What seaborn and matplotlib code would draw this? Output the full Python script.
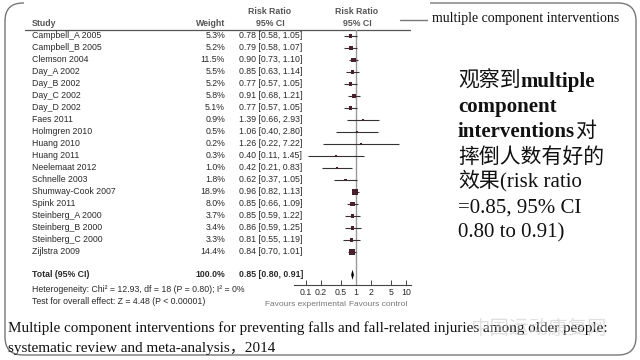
import numpy as np
import pandas as pd
import matplotlib
matplotlib.use("Agg")
import matplotlib.pyplot as plt
import seaborn as sns
from matplotlib.patches import FancyBboxPatch, Rectangle

# ---------------- data ----------------
studies = ["Campbell_A 2005", "Campbell_B 2005", "Clemson 2004", "Day_A 2002",
           "Day_B 2002", "Day_C 2002", "Day_D 2002", "Faes 2011", "Holmgren 2010",
           "Huang 2010", "Huang 2011", "Neelemaat 2012", "Schnelle 2003",
           "Shumway-Cook 2007", "Spink 2011", "Steinberg_A 2000", "Steinberg_B 2000",
           "Steinberg_C 2000", "Zijlstra 2009"]
weights = [5.3, 5.2, 11.5, 5.5, 5.2, 5.8, 5.1, 0.9, 0.5, 0.2, 0.3, 1.0, 1.8,
           18.9, 8.0, 3.7, 3.4, 3.3, 14.4]
rr = [0.78, 0.79, 0.90, 0.85, 0.77, 0.91, 0.77, 1.39, 1.06, 1.26, 0.40, 0.42,
      0.62, 0.96, 0.85, 0.85, 0.86, 0.81, 0.84]
ci_low = [0.58, 0.58, 0.73, 0.63, 0.57, 0.68, 0.57, 0.66, 0.40, 0.22, 0.11,
          0.21, 0.37, 0.82, 0.66, 0.59, 0.59, 0.55, 0.70]
ci_high = [1.05, 1.07, 1.10, 1.14, 1.05, 1.21, 1.05, 2.93, 2.80, 7.22, 1.45,
           0.83, 1.05, 1.13, 1.09, 1.22, 1.25, 1.19, 1.01]
total_weight = 100.0
total_rr, total_low, total_high = 0.85, 0.80, 0.91
axis_ticks = [0.1, 0.2, 0.5, 1, 2, 5, 10]
axis_tick_labels = ["0.1", "0.2", "0.5", "1", "2", "5", "10"]
heterogeneity = "Heterogeneity: Chi\u00b2 = 12.93, df = 18 (P = 0.80); I\u00b2 = 0%"
overall = "Test for overall effect: Z = 4.48 (P < 0.00001)"

df = pd.DataFrame({"study": studies, "weight": weights, "rr": rr,
                   "lo": ci_low, "hi": ci_high})
df["row"] = np.arange(len(df))

sns.set_theme(style="white")
plt.rcParams["font.family"] = ["Liberation Sans", "DejaVu Sans"]

W, H = 640, 360
fig = plt.figure(figsize=(6.4, 3.6), dpi=100)
bg = fig.add_axes([0, 0, 1, 1])
bg.set_xlim(0, W)
bg.set_ylim(H, 0)
bg.axis("off")

ROW0, ROWSTEP = 36.0, 12.0
total_row = 19.9


def row_px(r):
    return ROW0 + ROWSTEP * r

# ---------------- frame ----------------
frame = FancyBboxPatch((5, 3), 631, 352, boxstyle="round,pad=0,rounding_size=18",
                       fc="none", ec="#777777", lw=1.0, zorder=1)
bg.add_patch(frame)
bg.add_patch(Rectangle((24, 0), 406, 8, fc="white", ec="none", zorder=2))
bg.plot([400, 427], [20, 20], color="#777777", lw=1.0, zorder=2)

# ---------------- table text ----------------
tc = "#2a2a2a"
hc = "#555555"
fs = 6.3
bg.text(32, 24, "Study", fontsize=fs, fontweight="bold", color=hc, va="center")
bg.text(225, 24, "Weight", fontsize=fs, fontweight="bold", color=hc, va="center", ha="right")
bg.text(270, 11, "Risk Ratio", fontsize=fs, fontweight="bold", color=hc, va="center", ha="center")
bg.text(270, 24, "95% CI", fontsize=fs, fontweight="bold", color=hc, va="center", ha="center")
bg.text(357, 11, "Risk Ratio", fontsize=fs, fontweight="bold", color=hc, va="center", ha="center")
bg.text(357, 24, "95% CI", fontsize=fs, fontweight="bold", color=hc, va="center", ha="center")
bg.plot([25, 410], [29.5, 29.5], color="#555555", lw=0.9, zorder=3)

for _, r in df.iterrows():
    y = row_px(r["row"])
    bg.text(32, y, r["study"], fontsize=fs, color=tc, va="center")
    bg.text(225, y, f"{r['weight']:.1f}%", fontsize=fs, color=tc, va="center", ha="right")
    bg.text(239, y, f"{r['rr']:.2f} [{r['lo']:.2f}, {r['hi']:.2f}]", fontsize=fs,
            color=tc, va="center")

yt = row_px(total_row)
bg.text(32, yt, "Total (95% CI)", fontsize=fs, fontweight="bold", color=tc, va="center")
bg.text(225, yt, f"{total_weight:.1f}%", fontsize=fs, fontweight="bold", color=tc,
        va="center", ha="right")
bg.text(239, yt, f"{total_rr:.2f} [{total_low:.2f}, {total_high:.2f}]", fontsize=fs,
        fontweight="bold", color=tc, va="center")
bg.text(32, 289, heterogeneity, fontsize=6.3, color=tc, va="center")
bg.text(32, 301, overall, fontsize=6.3, color=tc, va="center")
bg.text(346, 305, "Favours experimental", fontsize=6.0, color="#777777", va="center", ha="right")
bg.text(349, 305, "Favours control", fontsize=6.0, color="#777777", va="center", ha="left")

# ---------------- forest axes ----------------
LPX, RPX = 291.0, 421.0
TOP, BOT = 29.5, 285.0
ax = fig.add_axes([LPX / W, (H - BOT) / H, (RPX - LPX) / W, (BOT - TOP) / H])
ax.patch.set_alpha(0)
ax.set_xscale("log")
ax.set_xlim(0.05, 20)
ax.set_ylim((BOT - ROW0) / ROWSTEP, (TOP - ROW0) / ROWSTEP)

ax.axvline(1, color="#999999", lw=1.0, zorder=1)
ax.hlines(df["row"], df["lo"], df["hi"], color="#333333", lw=0.8, zorder=2)
sns.scatterplot(data=df, x="rr", y="row", size="weight", sizes=(2, 20),
                marker="s", color="#4a1f2c", edgecolor="none", legend=False,
                ax=ax, zorder=3)
dh = 0.42
ax.fill([total_low, total_rr, total_high, total_rr],
        [total_row, total_row - dh, total_row, total_row + dh],
        color="black", lw=0, zorder=3)

for s in ["top", "right", "left"]:
    ax.spines[s].set_visible(False)
ax.spines["bottom"].set_color("#444444")
ax.spines["bottom"].set_linewidth(0.8)
ax.spines["bottom"].set_bounds(0.0575, 12.5)
ax.set_xticks(axis_ticks)
ax.set_xticklabels(axis_tick_labels)
ax.minorticks_off()
ax.tick_params(axis="x", which="major", direction="in", length=3.5, width=0.7,
               color="#444444", labelsize=6.3, labelcolor=tc, pad=2, bottom=True)
ax.set_yticks([])
ax.set_xlabel("")
ax.set_ylabel("")

# ---------------- right-hand annotation ----------------
SERIF = ["Liberation Serif", "Noto Sans CJK SC"]
CJK = ["Noto Sans CJK SC", "Liberation Serif"]
renderer = fig.canvas.get_renderer()


def runs(x, y, parts, size=15):
    for txt, fam, wt in parts:
        t = bg.text(x, y, txt, fontsize=size, family=fam, fontweight=wt,
                    color="#111111", va="baseline", ha="left")
        bb = t.get_window_extent(renderer)
        x += bb.width

bg.text(432, 22, "multiple component interventions", fontsize=10, family=SERIF,
        color="#111111", va="baseline")

BX, BY, LS = 458, 87, 25.1
runs(BX, BY + 0 * LS, [("观察到", CJK, "normal"), ("multiple", SERIF, "bold")])
runs(BX, BY + 1 * LS, [("component", SERIF, "bold")])
runs(BX, BY + 2 * LS, [("interventions", SERIF, "bold"), ("对", CJK, "normal")])
runs(BX, BY + 3 * LS, [("摔倒人数有好的", CJK, "normal")])
runs(BX, BY + 4 * LS, [("效果", CJK, "normal"), ("(risk ratio", SERIF, "normal")])
runs(BX, BY + 5 * LS, [("=0.85, 95% CI", SERIF, "normal")])
runs(BX, BY + 6 * LS, [("0.80 to 0.91)", SERIF, "normal")])

# ---------------- bottom citation ----------------
bg.text(8, 332, "Multiple component interventions for preventing falls and fall-related "
        "injuries among older people:", fontsize=10.9, family=SERIF, color="#111111",
        va="baseline")
bg.text(8, 352, "systematic review and meta-analysis，2014", fontsize=10.9,
        family=SERIF, color="#111111", va="baseline")
bg.text(470, 334, "中国运动康复网", fontsize=14, family=CJK, color="#cccccc",
        alpha=0.6, va="baseline")

fig.savefig("out.png", dpi=100)
